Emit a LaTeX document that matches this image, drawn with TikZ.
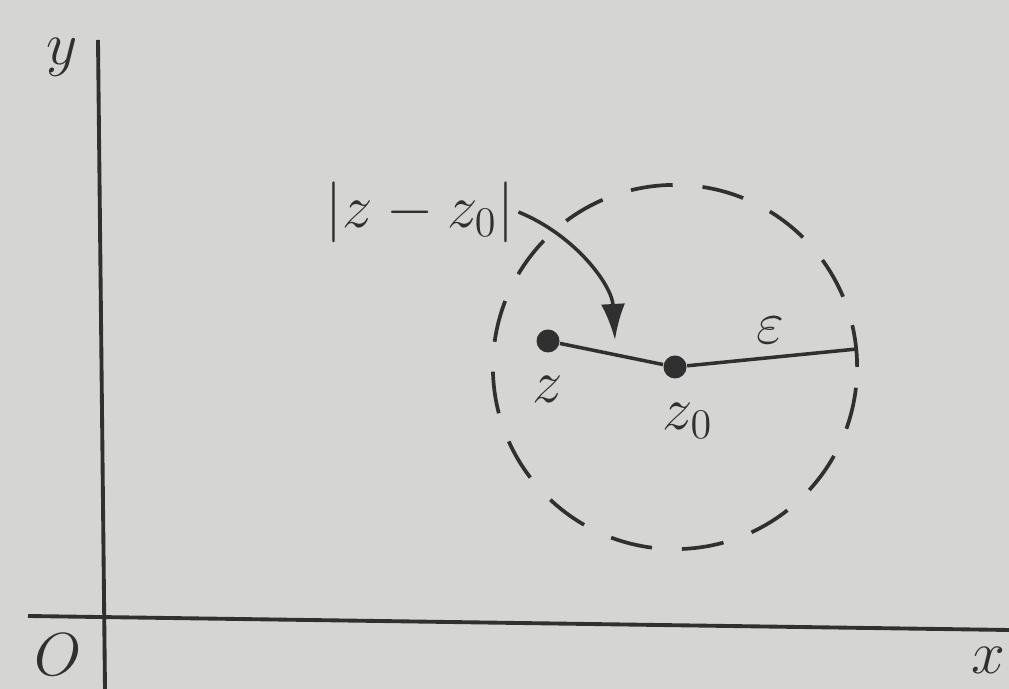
\documentclass[tikz,border=0pt]{standalone}
\usepackage{amsmath,amssymb}
\usepackage{xcolor}
\definecolor{clPaper}{HTML}{D5D5D3}
\definecolor{clInk}{HTML}{303030}
\usepackage{tikz}
\usetikzlibrary{arrows.meta,positioning,calc}
\tikzset{
  axis/.style={draw=clInk, line width=1.1pt},
  seg/.style={draw=clInk, line width=1pt},
  disk/.style={circle, fill=clInk, inner sep=0pt, minimum size=2.3mm},
  lbl/.style={text=clInk, inner sep=1pt, font=\fontsize{18}{22}\selectfont},
  flow/.style={-{Latex[length=3.6mm, width=2.4mm]}, line width=1pt, draw=clInk},
  nbhd/.style={draw=clInk, line width=1.05pt, dash pattern=on 12pt off 8.5pt},
}

\begin{document}
\begin{tikzpicture}[x=0.01cm, y=-0.01cm]
  \useasboundingbox (0,0) rectangle (1009,689);
  \fill[clPaper] (0,0) rectangle (1009,689);
  % axes
  \coordinate (ytop) at (98,40);
  \coordinate (ybot) at (105,689);
  \coordinate (xlft) at (28,616);
  \coordinate (xrgt) at (1009,630);
  \draw[axis] (ytop) -- (ybot);
  \draw[axis] (xlft) -- (xrgt);
  \node[lbl] (ylab) at (62,57) {$y$};
  \node[lbl] (xlab) at (988,660) {$x$};
  \node[lbl] (olab) at (58,655) {$O$};
  % neighbourhood of z0
  \node[disk] (c) at (675,367) {};
  \node[disk] (z) at (548,341) {};
  \draw[nbhd] (c.center) circle[radius=1.82cm];
  \coordinate (rim) at (857,349);
  \draw[seg] (z) -- (c);
  \draw[seg] (c) -- (rim);
  \node[lbl, below=4.8mm of z.center, anchor=center] (zlab) {$z$};
  \node[lbl, below=5.4mm of c.center, anchor=center, xshift=1.3mm] (clab) {$z_0$};
  \node[lbl] (eps) at (770,330) {$\varepsilon$};
  % distance label and arrow
  \node[lbl, font=\fontsize{16.5}{20}\selectfont] (dist) at (420,212) {$|z-z_0|$};
  \coordinate (tip) at (615,340);
  \draw[flow] (dist.east) .. controls (575,235) and (612,285) .. (tip);
\end{tikzpicture}
\end{document}
